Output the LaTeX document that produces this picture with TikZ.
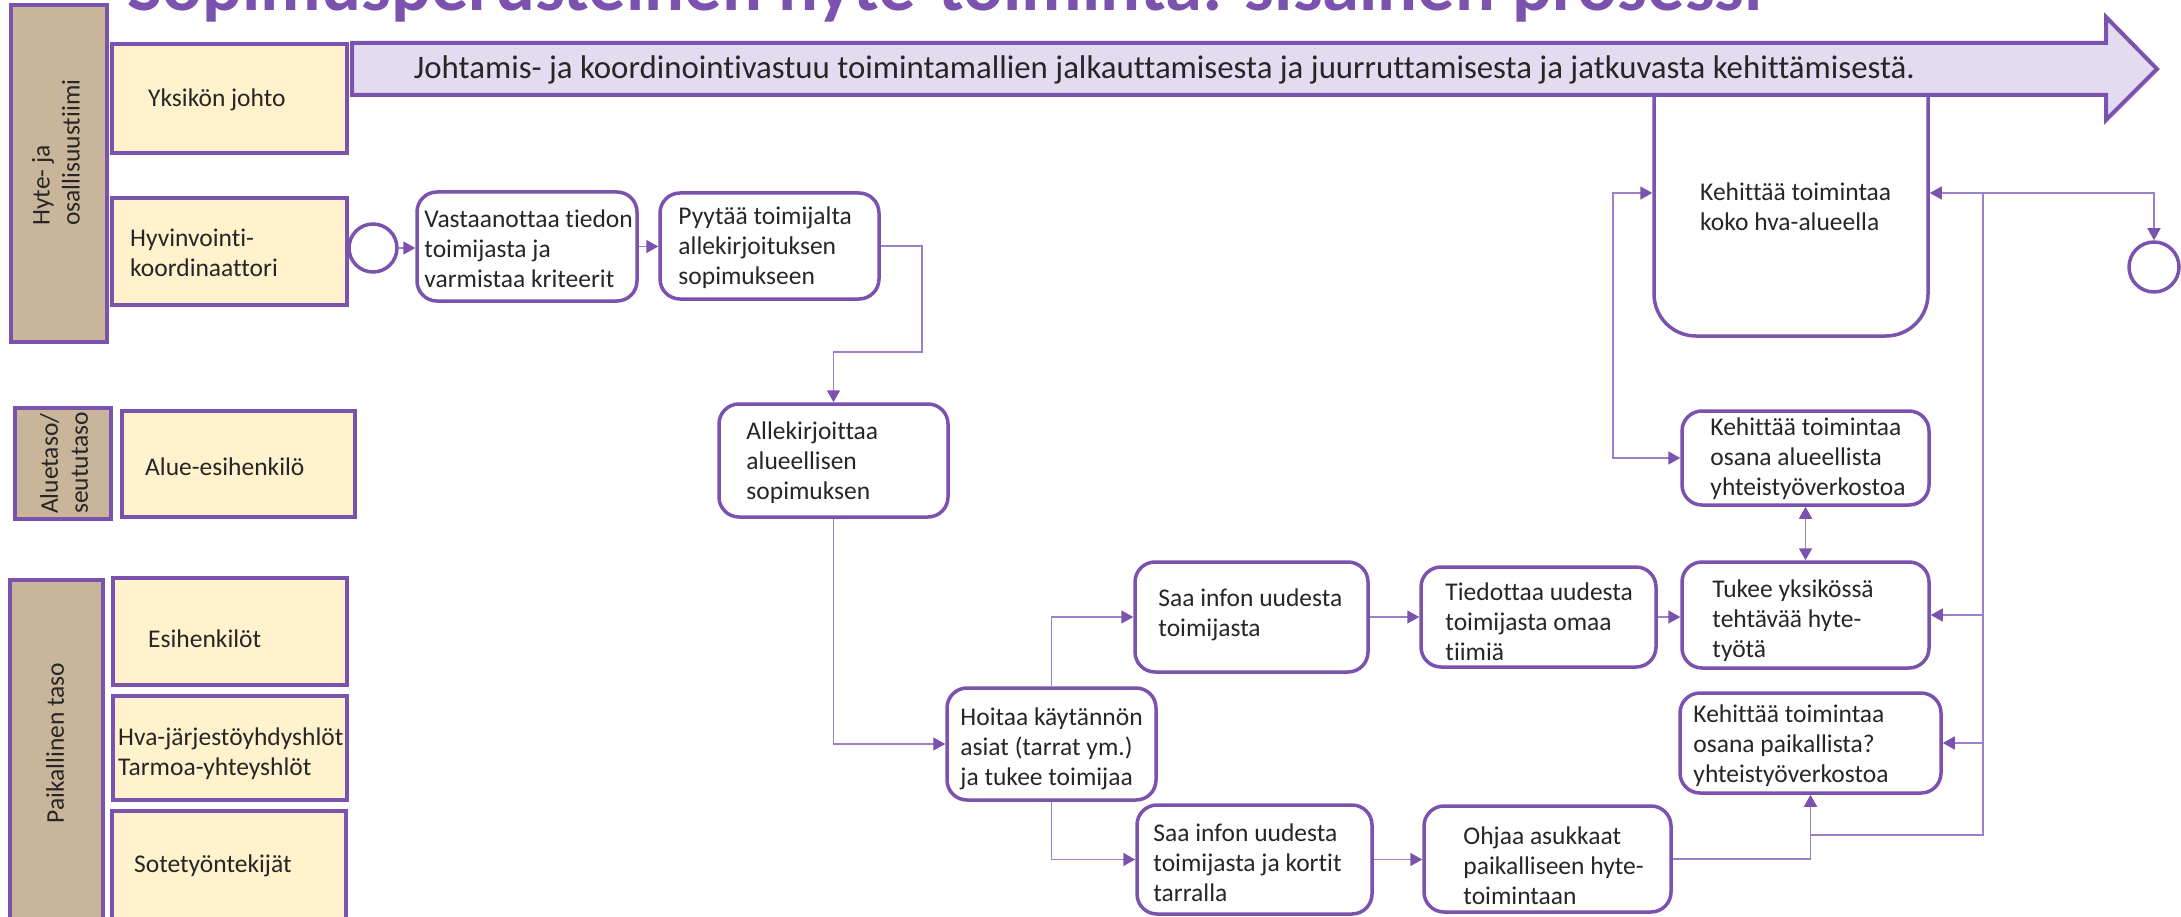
\documentclass[tikz,border=0pt]{standalone}
\usepackage{fontspec}
\usepackage{graphicx}
\setmainfont{Carlito}[Ligatures=NoCommon]
\usetikzlibrary{arrows.meta,calc,fit}

\definecolor{bord}{HTML}{7B52AE}
\definecolor{lnc}{HTML}{9B7FCA}
\definecolor{tan}{HTML}{C9B59A}
\definecolor{cream}{HTML}{FFF2CC}
\definecolor{lav}{HTML}{E3DCF0}
\definecolor{ink}{HTML}{262626}

\begin{document}
\begin{tikzpicture}[x=1pt,y=-1pt,
  every node/.style={font=\fontsize{25.5}{30}\selectfont, text=ink},
  hdr/.style={draw=bord, fill=tan, line width=4pt, inner sep=0pt},
  role/.style={draw=bord, fill=cream, line width=4pt, inner sep=0pt},
  proc/.style={draw=bord, fill=white, line width=3.5pt, rounded corners=20pt, inner sep=0pt},
  evt/.style={circle, draw=bord, fill=white, line width=3.5pt, inner sep=0pt},
  lbl/.style={align=left, inner sep=0pt, anchor=west},
  tip/.tip={Triangle[length=12pt,width=13pt,color=bord]},
  wire/.style={draw=lnc, line width=1.6pt},
  conn/.style={wire, -tip},
  bothconn/.style={wire, tip-tip},
]
\useasboundingbox (0,0) rectangle (2181,917);
\clip (0,0) rectangle (2181,917);

% title (only its lower part lies inside the page)
\node[anchor=base west, inner sep=0pt, text=bord] (title) at (127,11)
  {\resizebox{1635pt}{!}{\bfseries Sopimusperusteinen hyte-toiminta: sisäinen prosessi}};

% lane headers
\node[hdr, fit={(11,5) (107,342)}] (h1) {};
\node[hdr, fit={(15,408) (111,519)}] (h2) {};
\node[hdr, fit={(10,580) (103,925)}] (h3) {};
\node[lbl, rotate=90] (h1t) at (56,226) {Hyte- ja\\osallisuustiimi};
\node[lbl, rotate=90] (h2t) at (64,514) {Aluetaso/\\seututaso};
\node[rotate=90, inner sep=0pt] (h3t) at (55,743) {Paikallinen taso};

% roles
\node[role, fit={(112,44) (347,153)}] (yks) {};
\node[role, fit={(112,198) (347,305)}] (hyv) {};
\node[role, fit={(122,411) (355,517)}] (alue) {};
\node[role, fit={(113,578) (347,685)}] (esi) {};
\node[role, fit={(113,696) (347,800)}] (hvaj) {};
\node[role, fit={(112,811) (346,922)}] (sote) {};
\node[lbl] (yks-t) at (148,100) {Yksikön johto};
\node[lbl] (hyv-t) at (130,253) {Hyvinvointi-\\koordinaattori};
\node[lbl] (alue-t) at (145,467) {Alue-esihenkilö};
\node[lbl] (esi-t) at (148,639) {Esihenkilöt};
\node[lbl] (hvaj-t) at (118,754) {Hva-järjestöyhdyshlöt\\Tarmoa-yhteyshlöt};
\node[lbl] (sote-t) at (134,866) {Sotetyöntekijät};

% large task under the banner
\node[proc, rounded corners=42pt, fit={(1654,50) (1928,336)}] (hva) {};
\node[lbl] (hva-t) at (1700,207) {Kehittää toimintaa\\koko hva-alueella};

% banner arrow
\path[draw=bord, fill=lav, line width=4pt, line join=miter]
  (352,43) -- (2106,43) -- (2106,17) -- (2157,69) -- (2106,120) -- (2106,95) -- (352,95) -- cycle;
\node[inner sep=0pt] (ban) at (1164.5,70)
  {\resizebox{1501pt}{!}{Johtamis- ja koordinointivastuu toimintamallien jalkauttamisesta ja juurruttamisesta ja jatkuvasta kehittämisestä.}};

% events
\node[evt, minimum size=48pt] (start) at (373,248) {};
\node[evt, minimum size=50pt] (end) at (2154,267) {};

% process steps
\node[proc, fit={(417,192) (637,301)}] (vast) {};
\node[proc, fit={(660,193) (879,299)}] (pyy) {};
\node[proc, fit={(719,404) (948,517)}] (alle) {};
\node[proc, fit={(947,688) (1156,800)}] (hoi) {};
\node[proc, fit={(1135,562) (1368,672)}] (saa1) {};
\node[proc, fit={(1137,805) (1372,914)}] (saa2) {};
\node[proc, fit={(1421,567) (1656,667)}] (tied) {};
\node[proc, fit={(1682,562) (1929,668)}] (tuk) {};
\node[proc, fit={(1682,411) (1929,505)}] (kalue) {};
\node[proc, fit={(1680,693) (1941,793)}] (kpaik) {};
\node[proc, fit={(1424,806) (1671,912)}] (ohj) {};

\node[lbl] (vast-t) at ([xshift=9pt,yshift=-2pt]vast.west) {Vastaanottaa tiedon\\toimijasta ja\\varmistaa kriteerit};
\node[lbl] (pyy-t) at ([xshift=20pt,yshift=-2pt]pyy.west) {Pyytää toimijalta\\allekirjoituksen\\sopimukseen};
\node[lbl] (alle-t) at ([xshift=29pt,yshift=-2pt]alle.west) {Allekirjoittaa\\alueellisen\\sopimuksen};
\node[lbl] (hoi-t) at ([xshift=15pt,yshift=-5pt]hoi.west) {Hoitaa käytännön\\asiat (tarrat ym.)\\ja tukee toimijaa};
\node[lbl] (saa1-t) at ([xshift=25pt,yshift=2pt]saa1.west) {Saa infon uudesta\\toimijasta};
\node[lbl] (saa2-t) at ([xshift=18pt,yshift=-3pt]saa2.west) {Saa infon uudesta\\toimijasta ja kortit\\tarralla};
\node[lbl] (tied-t) at ([xshift=26pt,yshift=-5pt]tied.west) {Tiedottaa uudesta\\toimijasta omaa\\tiimiä};
\node[lbl] (tuk-t) at ([xshift=32pt,yshift=-6pt]tuk.west) {Tukee yksikössä\\tehtävää hyte-\\työtä};
\node[lbl] (kalue-t) at ([xshift=30pt,yshift=-1pt]kalue.west) {Kehittää toimintaa\\osana alueellista\\yhteistyöverkostoa};
\node[lbl] (kpaik-t) at ([xshift=15pt,yshift=-3pt]kpaik.west) {Kehittää toimintaa\\osana paikallista?\\yhteistyöverkostoa};
\node[lbl] (ohj-t) at ([xshift=41pt,yshift=-7pt]ohj.west) {Ohjaa asukkaat\\paikalliseen hyte-\\toimintaan};

% connectors
\coordinate (b1) at (922,352);
\coordinate (j1) at (1810.5,835);
\coordinate (j2) at (1983,835);
\coordinate (j3) at (1983,193);
\coordinate (j4) at (1613,193);

\draw[conn] (start.east) -- (start.east -| vast.west);
\draw[conn] (vast.east) -- (vast.east -| pyy.west);
\draw[conn] (pyy.east) -| (b1) -| (alle.north);
\draw[conn] (alle.south) |- (hoi.west);
\draw[conn] (hoi.north) |- (saa1.west);
\draw[conn] (hoi.south) |- (saa2.west);
\draw[conn] (saa1.east) -- (saa1.east -| tied.west);
\draw[conn] (saa2.east) -- (saa2.east -| ohj.west);
\draw[conn] (tied.east) -- (tied.east -| tuk.west);
\draw[bothconn] (kalue.south) -- (tuk.north);
\draw[conn] (ohj.east) -| (kpaik.south);
\draw[wire] (j1) -- (j2) -- (j3);
\draw[conn] (j3) -- (hva.east);
\draw[conn] (j3) -| (end.north);
\draw[conn] (tuk.east -| j2) -- (tuk.east);
\draw[conn] (kpaik.east -| j2) -- (kpaik.east);
\draw[bothconn] (hva.west) -- (j4) |- (kalue.west);
\end{tikzpicture}
\end{document}
